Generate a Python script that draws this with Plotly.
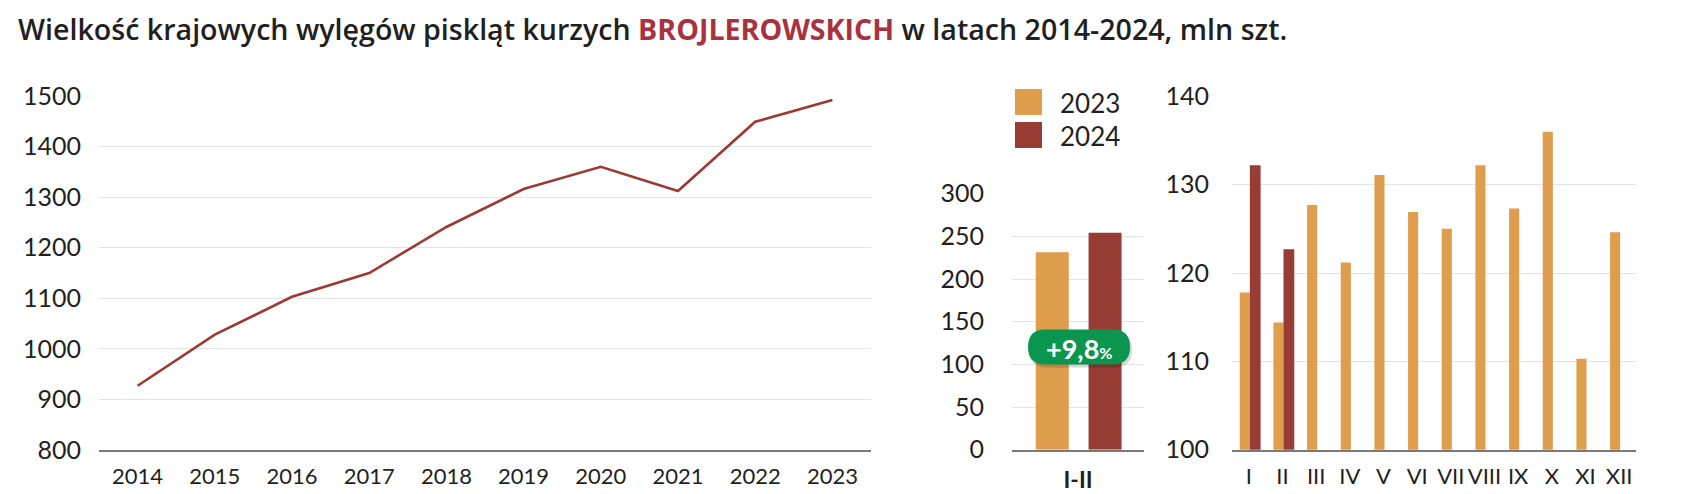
import plotly.graph_objects as go

W, H = 1690, 494

# ---- data ----
years = ["2014", "2015", "2016", "2017", "2018", "2019", "2020", "2021", "2022", "2023"]
hatch_yearly = [927, 1028, 1103, 1150, 1241, 1316, 1360, 1312, 1449, 1492]

period_label = ["I-II"]
period_2023 = [231.4]
period_2024 = [254.1]
change_label = "+9,8"

months = ["I", "II", "III", "IV", "V", "VI", "VII", "VIII", "IX", "X", "XI", "XII"]
monthly_2023 = [117.8, 114.4, 127.7, 121.2, 131.1, 126.9, 125.0, 132.2, 127.3, 136.0, 110.3, 124.6]
monthly_2024 = [132.2, 122.7]
months_2024 = months[:2]

series_names = ["2023", "2024"]

ylin_ticks = [800, 900, 1000, 1100, 1200, 1300, 1400, 1500]
ymid_ticks = [0, 50, 100, 150, 200, 250, 300]
yright_ticks = [100, 110, 120, 130, 140]

# ---- styles ----
C_ORANGE = "#DF9D4E"
C_RED = "#983C36"
C_LINE = "#9B3A33"
C_TITLE_RED = "#A8323E"
C_TEXT = "#231F20"
C_GRID = "#E3E3E3"
C_AXIS = "#7A7A7A"
C_GREEN = "#0B9650"
FONT = "Lato"


def px(x):
    return x / W


def py(y):
    return (H - y) / H


fig = go.Figure()

fig.add_trace(go.Scatter(
    x=years, y=hatch_yearly, mode="lines",
    line=dict(color=C_LINE, width=2.6),
    xaxis="x", yaxis="y", showlegend=False,
))

fig.add_trace(go.Bar(
    x=period_label, y=period_2023, name=series_names[0],
    marker=dict(color=C_ORANGE, line=dict(width=0)),
    width=0.25, offset=-0.32, xaxis="x2", yaxis="y2", showlegend=False,
))
fig.add_trace(go.Bar(
    x=period_label, y=period_2024, name=series_names[1],
    marker=dict(color=C_RED, line=dict(width=0)),
    width=0.25, offset=0.08, xaxis="x2", yaxis="y2", showlegend=False,
))

fig.add_trace(go.Bar(
    x=months, y=monthly_2023, name=series_names[0],
    marker=dict(color=C_ORANGE, line=dict(width=0)),
    width=0.3, offset=-0.27, xaxis="x3", yaxis="y3", showlegend=False,
))
fig.add_trace(go.Bar(
    x=months_2024, y=monthly_2024, name=series_names[1],
    marker=dict(color=C_RED, line=dict(width=0)),
    width=0.32, offset=0.03, xaxis="x3", yaxis="y3", showlegend=False,
))

tick_y = dict(family=FONT, size=25, color=C_TEXT)
tick_x = dict(family=FONT, size=22, color=C_TEXT)

common_y = dict(
    showgrid=True, gridcolor=C_GRID, gridwidth=1.3, zeroline=False,
    showline=False, ticks="outside", tickcolor="rgba(0,0,0,0)",
    tickfont=tick_y, fixedrange=True, automargin=False,
)
common_x = dict(
    type="category", showgrid=False, zeroline=False, showline=True,
    linecolor=C_AXIS, linewidth=1.6, ticks="outside",
    tickcolor="rgba(0,0,0,0)", ticklen=6, tickfont=tick_x, fixedrange=True,
    automargin=False,
)

fig.update_layout(
    template="none",
    width=W, height=H,
    margin=dict(l=0, r=0, t=0, b=0, pad=0),
    paper_bgcolor="white", plot_bgcolor="white",
    showlegend=False,
    barmode="overlay",
    xaxis=dict(common_x, domain=[px(91), px(863)], range=[-0.5, 9.5], anchor="y"),
    yaxis=dict(common_y, domain=[py(442), py(88)], range=[800, 1500],
               tickvals=ylin_ticks, ticklen=12, anchor="x"),
    xaxis2=dict(common_x, domain=[px(1004), px(1136)], range=[-0.5, 0.5], anchor="y2",
                tickfont=dict(family=FONT, size=23, color=C_TEXT, weight="bold"), ticklen=9),
    yaxis2=dict(common_y, domain=[py(441.7), py(185.7)], range=[0, 300],
                tickvals=ymid_ticks, ticklen=22, anchor="x2"),
    xaxis3=dict(common_x, domain=[px(1224), px(1628)], range=[-0.5, 11.5], anchor="y3"),
    yaxis3=dict(common_y, domain=[py(441.7), py(88.3)], range=[100, 140],
                tickvals=yright_ticks, ticklen=17, anchor="x3"),
)

shapes = []
annotations = []

# title
annotations.append(dict(
    xref="paper", yref="paper", x=px(8), y=py(20), xanchor="left", yanchor="middle",
    showarrow=False,
    text=("Wielkość krajowych wylęgów piskląt kurzych "
          f"<span style='color:{C_TITLE_RED}'><b>BROJLEROWSKICH</b></span>"
          " w latach 2014-2024, mln szt."),
    font=dict(family="Open Sans", size=28.6, color=C_TEXT, weight=600),
))

# legend (manual, large swatches)
for i, (name, col) in enumerate(zip(series_names, [C_ORANGE, C_RED])):
    y0 = 81 + i * 33
    shapes.append(dict(type="rect", xref="paper", yref="paper",
                       x0=px(1007), x1=px(1034), y0=py(y0 + 26), y1=py(y0),
                       fillcolor=col, line=dict(width=0)))
    annotations.append(dict(xref="paper", yref="paper", x=px(1050), y=py(y0 + 14),
                            xanchor="left", yanchor="middle", showarrow=False,
                            text=name, font=dict(family=FONT, size=26, color=C_TEXT)))


# badge (pill)
def pill(x0, y0, x1, y1):
    r = (y1 - y0) / 2
    pts = [
        ("M", x0 + r, y0), ("L", x1 - r, y0),
        ("Q", x1, y0, x1, y0 + r), ("Q", x1, y1, x1 - r, y1),
        ("L", x0 + r, y1), ("Q", x0, y1, x0, y1 - r), ("Q", x0, y0, x0 + r, y0),
    ]
    s = ""
    for p in pts:
        cmd = p[0]
        coords = p[1:]
        parts = []
        for j in range(0, len(coords), 2):
            parts.append(f"{px(coords[j]):.5f},{py(coords[j + 1]):.5f}")
        s += cmd + " ".join(parts)
    return s + "Z"


shapes.append(dict(type="path", xref="paper", yref="paper",
                   path=pill(1021, 323.5, 1124, 359.5),
                   fillcolor="rgba(0,0,0,0.16)", line=dict(width=0)))
shapes.append(dict(type="path", xref="paper", yref="paper",
                   path=pill(1020, 321.5, 1122, 356.5),
                   fillcolor=C_GREEN, line=dict(width=0)))
annotations.append(dict(
    xref="paper", yref="paper", x=px(1071), y=py(340), xanchor="center", yanchor="middle",
    showarrow=False,
    text=f"<b>{change_label}</b><span style='font-size:16px'><b>%</b></span>",
    font=dict(family=FONT, size=27, color="white"),
))

fig.update_layout(shapes=shapes, annotations=annotations)

fig.write_html("out.html")
